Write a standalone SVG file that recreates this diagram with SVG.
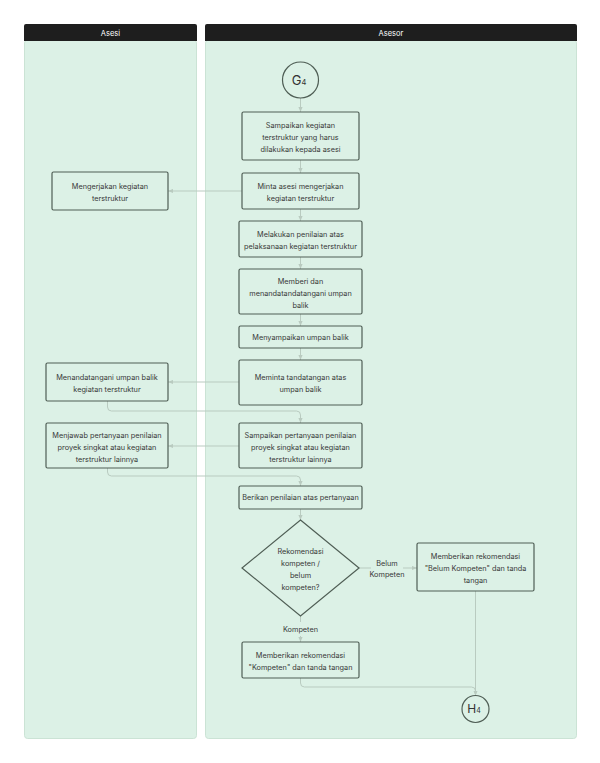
<svg xmlns="http://www.w3.org/2000/svg" width="600" height="763" viewBox="0 0 600 763">
<defs>
<style>
.lane{fill:#dcf1e6;stroke:#cbe3d5;stroke-width:1}
.hdr{fill:#1e1e1e}
.htxt{font-family:Inter,"Liberation Sans",sans-serif;font-size:7.5px;fill:#ffffff;text-anchor:middle}
.box{fill:#dcf1e6;stroke:#4f5e55;stroke-width:1.2}
.t{font-family:Inter,"Liberation Sans",sans-serif;font-size:7.3px;fill:#383838;text-anchor:middle}
.lbl{font-family:Inter,"Liberation Sans",sans-serif;font-size:7.3px;fill:#383838;text-anchor:middle}
.c{fill:none;stroke:#b9cbc0;stroke-width:1}
.term{font-family:Inter,"Liberation Sans",sans-serif;fill:#333333;text-anchor:middle}
</style>
<marker id="ah" viewBox="0 0 6 6" refX="6" refY="3" markerWidth="5" markerHeight="5" orient="auto" markerUnits="userSpaceOnUse">
<path d="M0,0.5 L6,3 L0,5.5 Z" fill="#b9cbc0"/>
</marker>
</defs>
<rect width="600" height="763" fill="#ffffff"/>
<g id="lane-asesi">
<rect class="lane" x="24.5" y="40" width="172" height="698.5" rx="3"/>
<path class="hdr" d="M24,41 V26 a2,2 0 0 1 2,-2 H195 a2,2 0 0 1 2,2 V41 Z"/>
<text class="htxt" x="110.5" y="35.5">Asesi</text>
</g>
<g id="lane-asesor">
<rect class="lane" x="205.5" y="40" width="371" height="698.5" rx="3"/>
<path class="hdr" d="M205,41 V26 a2,2 0 0 1 2,-2 H575 a2,2 0 0 1 2,2 V41 Z"/>
<text class="htxt" x="391" y="35.5">Asesor</text>
</g>
<g id="connectors">
<path class="c" d="M300.5,98 V112" marker-end="url(#ah)"/>
<path class="c" d="M300.5,160 V173" marker-end="url(#ah)"/>
<path class="c" d="M242,191 H168" marker-end="url(#ah)"/>
<path class="c" d="M300.5,209 V221" marker-end="url(#ah)"/>
<path class="c" d="M300.5,257 V269" marker-end="url(#ah)"/>
<path class="c" d="M300.5,314 V326" marker-end="url(#ah)"/>
<path class="c" d="M300.5,348 V360" marker-end="url(#ah)"/>
<path class="c" d="M239,382 H168" marker-end="url(#ah)"/>
<path class="c" d="M107.5,401 V407 Q107.5,411 111.5,411 H296.5 Q300.5,411 300.5,415 V423" marker-end="url(#ah)"/>
<path class="c" d="M239,446 H168" marker-end="url(#ah)"/>
<path class="c" d="M107.5,468 V472 Q107.5,476 111.5,476 H296.5 Q300.5,476 300.5,480 V486" marker-end="url(#ah)"/>
<path class="c" d="M300.5,509 V520" marker-end="url(#ah)"/>
<path class="c" d="M359,568 H371"/>
<path class="c" d="M403,568 H417" marker-end="url(#ah)"/>
<path class="c" d="M300.5,616 V622"/>
<path class="c" d="M300.5,636 V642" marker-end="url(#ah)"/>
<path class="c" d="M300.5,678 V683 Q300.5,687 304.5,687 H471.5 Q475.5,687 475.5,691 V695.5" marker-end="url(#ah)"/>
<path class="c" d="M475.5,591 V695.5" marker-end="url(#ah)"/>
<text class="lbl" x="387" y="565.5">Belum</text>
<text class="lbl" x="387" y="577">Kompeten</text>
<text class="lbl" x="300.5" y="632">Kompeten</text>
</g>
<g id="g4">
<circle cx="300.5" cy="80" r="18" fill="#dcf1e6" stroke="#4f5e55" stroke-width="1.2"/>
<text class="term" x="299" y="84.5" font-size="13">G<tspan font-size="7.5">4</tspan></text>
</g>
<g id="n1">
<rect class="box" x="242" y="112" width="117" height="48" rx="1.5"/>
<text class="t" x="300.5" y="127.5">Sampaikan kegiatan</text>
<text class="t" x="300.5" y="139.5">terstruktur yang harus</text>
<text class="t" x="300.5" y="151.5">dilakukan kepada asesi</text>
</g>
<g id="n2">
<rect class="box" x="242" y="173" width="117" height="36" rx="1.5"/>
<text class="t" x="300.5" y="188.5">Minta asesi mengerjakan</text>
<text class="t" x="300.5" y="200.5">kegiatan terstruktur</text>
</g>
<g id="n3">
<rect class="box" x="52" y="172" width="116" height="38" rx="1.5"/>
<text class="t" x="110" y="188.5">Mengerjakan kegiatan</text>
<text class="t" x="110" y="200.5">terstruktur</text>
</g>
<g id="n4">
<rect class="box" x="239" y="221" width="123" height="36" rx="1.5"/>
<text class="t" x="300.5" y="236.5">Melakukan penilaian atas</text>
<text class="t" x="300.5" y="248.5">pelaksanaan kegiatan terstruktur</text>
</g>
<g id="n5">
<rect class="box" x="239" y="269" width="123" height="45" rx="1.5"/>
<text class="t" x="300.5" y="283.5">Memberi dan</text>
<text class="t" x="300.5" y="295.5">menandatandatangani umpan</text>
<text class="t" x="300.5" y="307.5">balik</text>
</g>
<g id="n6">
<rect class="box" x="239" y="326" width="123" height="22" rx="1.5"/>
<text class="t" x="300.5" y="339.5">Menyampaikan umpan balik</text>
</g>
<g id="n7">
<rect class="box" x="239" y="360" width="123" height="45" rx="1.5"/>
<text class="t" x="300.5" y="380">Meminta tandatangan atas</text>
<text class="t" x="300.5" y="392">umpan balik</text>
</g>
<g id="n8">
<rect class="box" x="46" y="363" width="122" height="38" rx="1.5"/>
<text class="t" x="107" y="379.5">Menandatangani umpan balik</text>
<text class="t" x="107" y="391.5">kegiatan terstruktur</text>
</g>
<g id="n9">
<rect class="box" x="239" y="423" width="123" height="45" rx="1.5"/>
<text class="t" x="300.5" y="437.5">Sampaikan pertanyaan penilaian</text>
<text class="t" x="300.5" y="449.5">proyek singkat atau kegiatan</text>
<text class="t" x="300.5" y="461.5">terstruktur lainnya</text>
</g>
<g id="n10">
<rect class="box" x="46" y="423" width="122" height="45" rx="1.5"/>
<text class="t" x="107" y="437.5">Menjawab pertanyaan penilaian</text>
<text class="t" x="107" y="449.5">proyek singkat atau kegiatan</text>
<text class="t" x="107" y="461.5">terstruktur lainnya</text>
</g>
<g id="n11">
<rect class="box" x="239" y="486" width="123" height="23" rx="1.5"/>
<text class="t" x="300.5" y="500">Berikan penilaian atas pertanyaan</text>
</g>
<g id="d1">
<path class="box" d="M300.5,520 L359,568 L300.5,616 L242,568 Z"/>
<text class="t" x="300.5" y="554">Rekomendasi</text>
<text class="t" x="300.5" y="566">kompeten /</text>
<text class="t" x="300.5" y="578">belum</text>
<text class="t" x="300.5" y="590">kompeten?</text>
</g>
<g id="n12">
<rect class="box" x="417" y="543" width="117" height="48" rx="1.5"/>
<text class="t" x="475.5" y="558.5">Memberikan rekomendasi</text>
<text class="t" x="475.5" y="570.5">"Belum Kompeten" dan tanda</text>
<text class="t" x="475.5" y="582.5">tangan</text>
</g>
<g id="n13">
<rect class="box" x="242" y="642" width="117" height="36" rx="1.5"/>
<text class="t" x="300.5" y="657.5">Memberikan rekomendasi</text>
<text class="t" x="300.5" y="669.5">"Kompeten" dan tanda tangan</text>
</g>
<g id="h4">
<circle cx="475.5" cy="709" r="13.5" fill="#dcf1e6" stroke="#4f5e55" stroke-width="1.2"/>
<text class="term" x="474" y="713" font-size="12">H<tspan font-size="7">4</tspan></text>
</g>
</svg>
